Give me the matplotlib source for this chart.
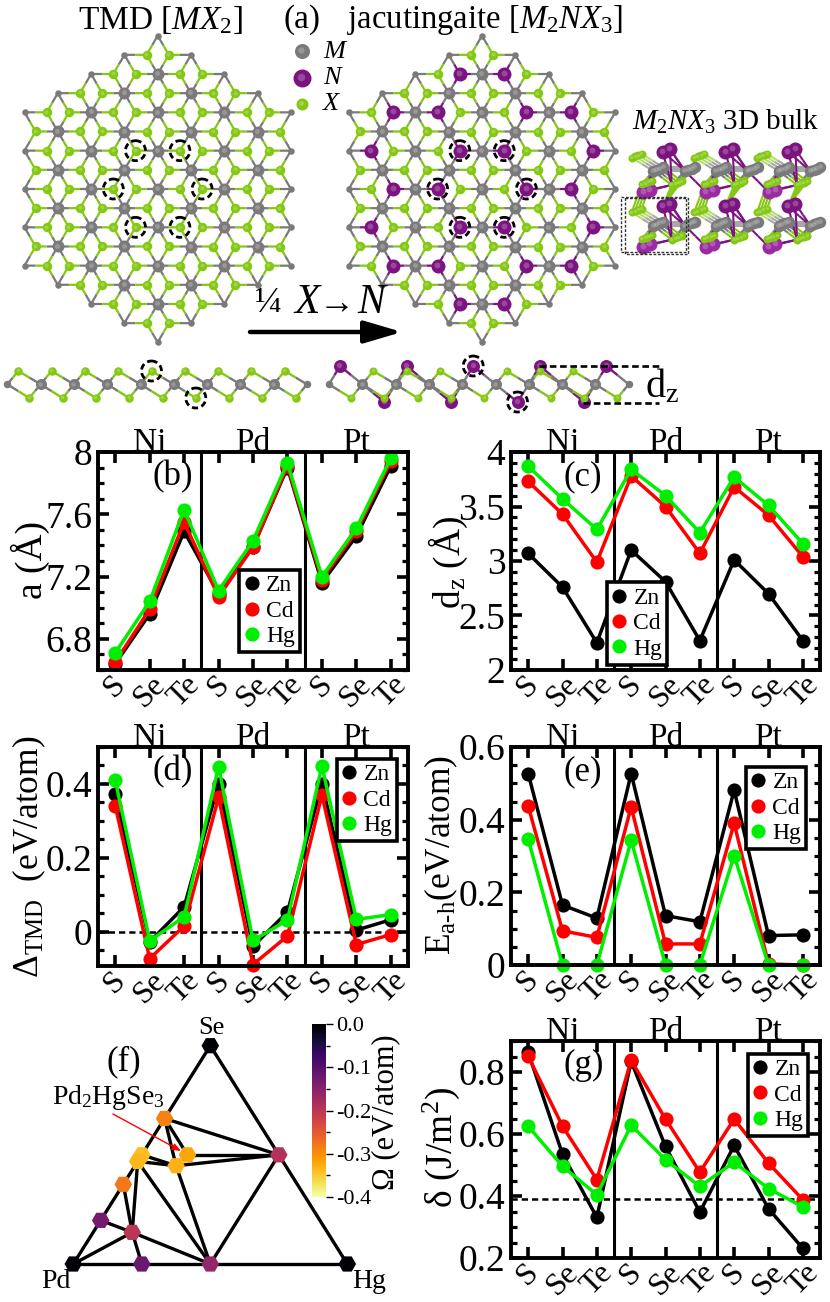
import matplotlib
matplotlib.use('Agg')
import matplotlib.pyplot as plt
from matplotlib.collections import LineCollection
from matplotlib.lines import Line2D
from matplotlib.patches import Circle, Rectangle
from matplotlib.ticker import MultipleLocator

plt.rcParams['font.family'] = ['Liberation Serif', 'DejaVu Serif']
plt.rcParams['mathtext.fontset'] = 'custom'
plt.rcParams['mathtext.rm'] = 'Liberation Serif'
plt.rcParams['mathtext.it'] = 'Liberation Serif:italic'
plt.rcParams['mathtext.bf'] = 'Liberation Serif:bold'

W, H = 830, 1302

# x categories
chalcogens = ['S', 'Se', 'Te'] * 3
metals = ['Ni', 'Pd', 'Pt']
species = ['Zn', 'Cd', 'Hg']
colors = ['black', '#ff0000', '#00ee00']

# (b) lattice constant
a_zn = [6.64, 6.96, 7.49, 7.09, 7.39, 7.90, 7.16, 7.46, 7.91]
a_cd = [6.65, 6.99, 7.55, 7.07, 7.39, 7.91, 7.18, 7.49, 7.94]
a_hg = [6.71, 7.04, 7.63, 7.11, 7.43, 7.93, 7.20, 7.51, 7.96]

# (c) buckling
dz_zn = [3.07, 2.76, 2.25, 3.10, 2.81, 2.27, 3.01, 2.70, 2.27]
dz_cd = [3.73, 3.43, 2.99, 3.78, 3.50, 3.07, 3.68, 3.42, 3.04]
dz_hg = [3.87, 3.57, 3.29, 3.84, 3.60, 3.26, 3.77, 3.51, 3.16]

# (d) energy relative to TMD
tmd_zn = [0.372, -0.027, 0.068, 0.400, -0.039, 0.054, 0.400, 0.005, 0.033]
tmd_cd = [0.341, -0.072, 0.016, 0.364, -0.088, -0.011, 0.370, -0.034, -0.007]
tmd_hg = [0.411, -0.024, 0.041, 0.447, -0.023, 0.032, 0.449, 0.034, 0.047]

# (e) energy above hull
hull_zn = [0.527, 0.165, 0.129, 0.527, 0.136, 0.119, 0.481, 0.081, 0.083]
hull_cd = [0.438, 0.094, 0.076, 0.435, 0.058, 0.058, 0.390, 0.003, 0.000]
hull_hg = [0.347, 0.000, 0.000, 0.343, 0.000, 0.000, 0.301, 0.000, 0.000]

# (g) exfoliation energy
exf_zn = [0.863, 0.535, 0.331, 0.834, 0.560, 0.348, 0.563, 0.359, 0.231]
exf_cd = [0.851, 0.625, 0.453, 0.838, 0.648, 0.477, 0.648, 0.506, 0.388]
exf_hg = [0.625, 0.496, 0.404, 0.628, 0.517, 0.431, 0.509, 0.424, 0.365]

# (f) Pd-Hg-Se convex hull: compositions and formation energy
node_pd = [1, 0, 0, 1/3, 0, 1/3, 0.40, 0.50, 0.53, 0.635, 0.80, 0.7125, 0.75, 0.50]
node_hg = [0, 1, 0, 0, 0.5, 1/6, 0.15, 0, 0, 0, 0, 0.1425, 0.25, 0.50]
node_se = [0, 0, 1, 2/3, 0.5, 0.5, 0.45, 0.50, 0.47, 0.365, 0.20, 0.145, 0, 0]
node_omega = [0, 0, 0, -0.29, -0.19, -0.32, -0.33, -0.34, -0.335, -0.28, -0.13, -0.20, -0.12, -0.16]
tie_lines = [(0, 2), (2, 1), (0, 1), (3, 4), (3, 5), (3, 6), (5, 4), (6, 4), (7, 6), (8, 6),
             (8, 13), (6, 13), (4, 13), (9, 11), (8, 11), (10, 11), (11, 13), (11, 12), (0, 11)]

M_COL, X_COL, N_COL = '#7a7a7a', '#84c814', '#7c1480'


def px_axes(left, top, right, bottom, **kw):
    return fig.add_axes([left / W, 1 - bottom / H, (right - left) / W, (bottom - top) / H], **kw)


fig = plt.figure(figsize=(W / 100, H / 100), dpi=100)
over = px_axes(0, 0, W, H)
over.set_xlim(0, W)
over.set_ylim(H, 0)
over.axis('off')
over.set_zorder(5)
over.patch.set_alpha(0)


def txt(x, y, s, size, **kw):
    kw.setdefault('ha', 'center')
    kw.setdefault('va', 'center')
    over.text(x, y, s, fontsize=size, **kw)


def balls(xs, ys, d, col, z=3, shine=True):
    # d is the diameter in pixels
    over.scatter(xs, ys, s=(d * 0.72) ** 2, color=col, linewidths=0, zorder=z)
    if shine:
        over.scatter([x - d * 0.05 for x in xs], [y - d * 0.07 for y in ys], s=(d * 0.3) ** 2,
                     color='white', alpha=0.22, linewidths=0, zorder=z + 0.1)


def bonds(pairs, lw=1.6, z=2):
    segs, cols = [], []
    for x1, y1, c1, x2, y2, c2 in pairs:
        xm, ym = (x1 + x2) / 2, (y1 + y2) / 2
        segs += [[(x1, y1), (xm, ym)], [(xm, ym), (x2, y2)]]
        cols += [c1, c2]
    over.add_collection(LineCollection(segs, colors=cols, linewidths=lw, zorder=z, capstyle='butt'))


def dash_ring(x, y, r=10):
    over.add_patch(Circle((x, y), r, fill=False, ec='black', lw=2, ls=(0, (2.2, 1.3)), zorder=6))


def flake(cx, cy, with_n):
    # lattice in thirds of the primitive vectors
    def pos(u, v):
        return cx + u / 3 * 33.3, cy + v / 3 * 38.33 + u / 3 * 19.17

    offs = [(2, -1), (-2, 1), (1, 1), (-1, -1), (1, -2), (-1, 2)]
    sites = set()
    for i in range(-4, 5):
        for j in range(-4, 5):
            if max(abs(i), abs(j), abs(i + j)) <= 3:
                for du, dv in offs:
                    sites.add((3 * i + du, 3 * j + dv))

    def is_n(site):
        return with_n and (site[0] % 6, site[1] % 6) in ((4, 4), (2, 2))

    pairs, big, small = [], [], []
    for i in range(-4, 5):
        for j in range(-4, 5):
            ring = max(abs(i), abs(j), abs(i + j))
            if ring > 4:
                continue
            mx, my = pos(3 * i, 3 * j)
            (big if ring < 4 else small).append((mx, my))
            for du, dv in offs:
                s = (3 * i + du, 3 * j + dv)
                if s in sites:
                    sx, sy = pos(*s)
                    pairs.append((mx, my, M_COL, sx, sy, N_COL if is_n(s) else X_COL))
    bonds(pairs)
    balls(*zip(*big), 12, M_COL)
    balls(*zip(*small), 6.5, M_COL, shine=False)
    xs = [pos(*s) for s in sites if not is_n(s)]
    balls(*zip(*xs), 9.5, X_COL)
    ns = [pos(*s) for s in sites if is_n(s)]
    if ns:
        balls(*zip(*ns), 14, N_COL)
    # the six replaced sites round the centre
    for u, v in [(-2, -2), (2, -4), (-4, 2), (4, -2), (-2, 4), (2, 2)]:
        x, y = pos(u, v)
        dash_ring(x, y)


def strip(x0, with_n):
    my, uy, ly, un, ln = 384.3, 371, 398, 366, 402
    step = 33.3
    mx = [x0 + k * step for k in range(10)]
    up = [x0 + 11 + k * step for k in range(9)]
    lo = [x0 + 22 + k * step for k in range(9)]
    pairs = []
    for k in range(9):
        top = N_COL if with_n and k % 2 == 0 else X_COL
        bot = N_COL if with_n and k % 2 == 1 else X_COL
        for m in (mx[k], mx[k + 1]):
            pairs.append((m, my, M_COL, up[k], un if top == N_COL else uy, top))
            pairs.append((m, my, M_COL, lo[k], ln if bot == N_COL else ly, bot))
            if with_n and top == N_COL and k not in (0, 4, 8):
                pairs.append((m, my, M_COL, up[k], uy, X_COL))
            if with_n and bot == N_COL and k != 5:
                pairs.append((m, my, M_COL, lo[k], ly, X_COL))
    bonds(pairs, lw=1.7)
    balls(mx[1:-1], [my] * 8, 11, M_COL)
    balls([mx[0], mx[-1]], [my] * 2, 7.5, M_COL, shine=False)
    if with_n:
        balls(up[::2], [un] * 5, 13, N_COL, z=2.5)
        balls(lo[1::2], [ln] * 4, 13, N_COL, z=2.5)
        balls([up[k] for k in range(9) if k not in (0, 4, 8)], [uy] * 6, 8, X_COL)
        balls([lo[k] for k in range(9) if k != 5], [ly] * 8, 8, X_COL)
        dash_ring(up[4], un, 10)
        dash_ring(lo[5], ln, 10)
    else:
        balls(up, [uy] * 9, 8.5, X_COL)
        balls(lo, [ly] * 9, 8.5, X_COL)
        dash_ring(up[4], uy, 10)
        dash_ring(lo[5], ly, 10)


def bulk():
    def p(zx, zy, c, r):
        return 620 + (zx + c * 188) / 3, 135 + (zy + r * 164) / 3

    step = (10, -3.7)
    pairs, ms, xs, ns_front, ns_back = [], [], [], [], []
    for c in range(3):
        for r in range(2):
            for k in range(3, -1, -1):
                dx, dy = k * step[0], k * step[1]
                a = p(35 + dx, 68 + dy, c, r)
                b = p(100 + dx, 108 + dy, c, r)
                g = p(195 + dx, 108 + dy, c, r)
                d = p(155 + dx, 150 + dy, c, r)
                e = p(65 + dx, 148 + dy, c, r)
                pairs.append((*a, '#b5dd70', *b, '#a8a8a8'))
                pairs.append((*b, '#a8a8a8', *g, '#a8a8a8'))
                pairs.append((*b, M_COL, *d, X_COL))
                pairs.append((*b, M_COL, *e, X_COL))
                pairs.append((*g, M_COL, *d, X_COL))
                if r == 0:
                    # green links down to the next row
                    pairs.append((*e, X_COL, *p(35 + dx, 68 + dy, c, 1), X_COL))
                    pairs.append((*d, X_COL, *p(128, 50, c, 1), X_COL))
                ms += [b, g]
                xs += [a, d, e]
            for q, zz in [((128, 50), ns_front), ((150, 42), ns_front), ((70, 171), ns_back), ((90, 164), ns_back)]:
                n = p(q[0], q[1], c, r)
                zz.append(n)
                pairs.append((*n, N_COL, *p(100 if q[0] < 100 else 195, 108, c, r), N_COL))
                pairs.append((*n, N_COL, *p(155, 150, c, r), N_COL))
            if c < 2:
                # purple diagonals into the next column
                pairs.append((*p(195, 108, c, r), N_COL, *p(258, 171, c, r), N_COL))
                pairs.append((*p(150, 42, c, r), N_COL, *p(195, 108, c, r), N_COL))
    bonds(pairs, lw=1.5, z=2)
    balls(*zip(*ns_back), 14, '#9a2ba0', z=2.2)
    balls(*zip(*xs), 8, X_COL, z=3)
    balls(*zip(*ms), 11.5, M_COL, z=3.5)
    balls(*zip(*ns_front), 14, N_COL, z=4)
    for x0, y0, x1, y1 in [(621, 197, 686, 252), (625, 198, 688, 254)]:
        over.add_patch(Rectangle((x0, y0), x1 - x0, y1 - y0, fill=False, ec='#333333', lw=1, ls=(0, (2, 1.2)), zorder=6))


# (a) structures
flake(157.7, 189, False)
flake(482, 189, True)
strip(7.3, False)
strip(329, True)
bulk()

txt(160, 20, r'TMD [$\mathit{MX}_2$]', 24)
txt(302, 20, '(a)', 24)
txt(485, 20, r'jacutingaite [$\mathit{M}_2\mathit{NX}_3$]', 23.5)
txt(726, 122, r'$\mathit{M}_2\mathit{NX}_3$ 3D bulk', 21)
balls([302], [51], 15, M_COL)
balls([302], [78], 18, N_COL)
balls([302], [104], 12, X_COL)
txt(334, 52, 'M', 19, style='italic')
txt(332, 78, 'N', 19, style='italic')
txt(331, 104, 'X', 19, style='italic')
txt(268, 303, '¼', 26)
txt(307, 303, 'X', 30, style='italic')
txt(337, 305, '→', 26)
txt(371, 303, 'N', 30, style='italic')
over.annotate('', xy=(402, 332), xytext=(250, 332),
              arrowprops=dict(arrowstyle='-|>,head_length=2.3,head_width=0.68', mutation_scale=10, color='black',
                              lw=3.2, shrinkA=0, shrinkB=0))
over.plot([539, 659], [366, 366], color='black', lw=1.9, ls=(0, (2.5, 1.4)), zorder=6)
over.plot([583, 659], [403, 403], color='black', lw=1.9, ls=(0, (2.5, 1.4)), zorder=6)
txt(662, 387, r'd$_\mathrm{z}$', 29)


def panel(box, vals, ylim, major, minor, yticks, legend_box):
    ax = px_axes(*box)
    for v, c in zip(vals, colors):
        ax.plot(range(9), v, '-o', color=c, lw=2.5, ms=10.2, mew=0, clip_on=False)
    ax.set_xlim(-0.5, 8.5)
    ax.set_ylim(*ylim)
    ax.set_xticks(range(9))
    ax.set_xticklabels(chalcogens, rotation=45, ha='center', rotation_mode='default')
    ax.yaxis.set_major_locator(MultipleLocator(major))
    ax.yaxis.set_minor_locator(MultipleLocator(minor))
    ax.set_yticks([float(t) for t in yticks])
    ax.set_yticklabels(yticks)
    ax.tick_params(which='major', direction='in', top=True, right=True, length=8, width=2.6, labelsize=27, pad=4)
    ax.tick_params(axis='x', which='major', labelsize=23, pad=0)
    ax.tick_params(which='minor', direction='in', right=True, length=4.5, width=2.3)
    for s in ax.spines.values():
        s.set_linewidth(2.8)
    for xv in (2.5, 5.5):
        ax.axvline(xv, color='black', lw=2.2, zorder=1.5)
    for k, m in enumerate(metals):
        ax.text(1 + 3 * k, 1.006, m, transform=ax.get_xaxis_transform(), ha='center', va='baseline', fontsize=24)
    handles = [Line2D([], [], ls='none', marker='o', ms=10.2, mew=0, color=c) for c in colors]
    x0, y0, x1, y1 = legend_box
    leg = ax.legend(handles, species, loc='center', frameon=True, fancybox=False, framealpha=1, edgecolor='black',
                    fontsize=17, numpoints=1, handlelength=0.62, handletextpad=0.3, labelspacing=0.16,
                    borderpad=0.22, borderaxespad=0,
                    bbox_to_anchor=((x0 + x1) / 2 / W, 1 - (y0 + y1) / 2 / H), bbox_transform=fig.transFigure)
    leg.get_frame().set_linewidth(2.6)
    leg.set_zorder(4)
    return ax


axb = panel((98, 452, 408, 670), [a_zn, a_cd, a_hg], (6.6, 8), 0.4, 0.1, ['6.8', '7.2', '7.6', '8'], (239, 572, 300, 650))
axc = panel((511, 452, 820, 670), [dz_zn, dz_cd, dz_hg], (2, 4), 0.5, 0.1, ['2', '2.5', '3', '3.5', '4'], (607, 586, 667, 661))
axd = panel((98, 747, 408, 966), [tmd_zn, tmd_cd, tmd_hg], (-0.092, 0.5), 0.2, 0.05, ['0', '0.2', '0.4'], (337, 762, 397, 838))
axe = panel((511, 747, 820, 965), [hull_zn, hull_cd, hull_hg], (0, 0.6), 0.2, 0.05, ['0', '0.2', '0.4', '0.6'], (746, 770, 806, 846))
axg = panel((511, 1041, 820, 1258), [exf_zn, exf_cd, exf_hg], (0.2, 0.9), 0.2, 0.05, ['0.2', '0.4', '0.6', '0.8'], (748, 1057, 808, 1133))
axd.axhline(0, color='black', lw=1.8, ls=(0, (2.5, 1.6)), zorder=1.5)
axg.axhline(0.39, color='black', lw=1.8, ls=(0, (2.5, 1.6)), zorder=1.5)

txt(173, 477, '(b)', 25)
txt(583, 477, '(c)', 25)
txt(173, 772, '(d)', 25)
txt(583, 772, '(e)', 25)
txt(584, 1065, '(g)', 25)
txt(30, 560, 'a (Å)', 27, rotation=90)
txt(448, 562, r'd$_\mathrm{z}$ (Å)', 27, rotation=90)
txt(29, 857, r'$\mathrm{\Delta_{TMD}}$  (eV/atom)', 25.5, rotation=90)
txt(441, 855, r'E$_\mathrm{a\text{-}h}$(eV/atom)', 25.5, rotation=90)
txt(441, 1148, r'$\mathrm{\delta}$ (J/m$^2$)', 27, rotation=90)

# (f) hull
axf = px_axes(73.3, 1045.7, 347.3, 1264)
axf.set_xlim(0, 1)
axf.set_ylim(0, 1)
axf.axis('off')
node_x = [h + s / 2 for h, s in zip(node_hg, node_se)]
for i, j in tie_lines:
    axf.plot([node_x[i], node_x[j]], [node_se[i], node_se[j]], color='black', lw=2.4, clip_on=False, zorder=1)
pts = axf.scatter(node_x, node_se, c=node_omega, cmap='inferno_r', vmin=-0.4, vmax=0, marker='H', s=160,
                  linewidths=0, clip_on=False, zorder=2)
cax = px_axes(312, 1024, 326, 1197)
cb = fig.colorbar(pts, cax=cax)
cb.set_ticks([-0.4, -0.3, -0.2, -0.1, 0.0])
cb.set_ticklabels(['-0.4', '-0.3', '-0.2', '-0.1', '0.0'])
cb.ax.yaxis.set_minor_locator(MultipleLocator(0.05))
cb.ax.tick_params(which='major', length=5, width=1, labelsize=16, pad=2, direction='out')
cb.ax.tick_params(which='minor', length=3, width=1, direction='out')
cb.outline.set_visible(False)
txt(386, 1112, 'Ω (eV/atom)', 22, rotation=90)
txt(211, 1028, 'Se', 19)
txt(56, 1282, 'Pd', 20)
txt(369, 1281, 'Hg', 20)
txt(124, 1062, '(f)', 25)
txt(108, 1097, r'Pd$_2$HgSe$_3$', 20)
over.annotate('', xy=(181, 1151), xytext=(113, 1114),
              arrowprops=dict(arrowstyle='-|>,head_length=0.5,head_width=0.2', color='red', lw=1, shrinkA=0, shrinkB=0))

fig.savefig('out.png', dpi=100)
